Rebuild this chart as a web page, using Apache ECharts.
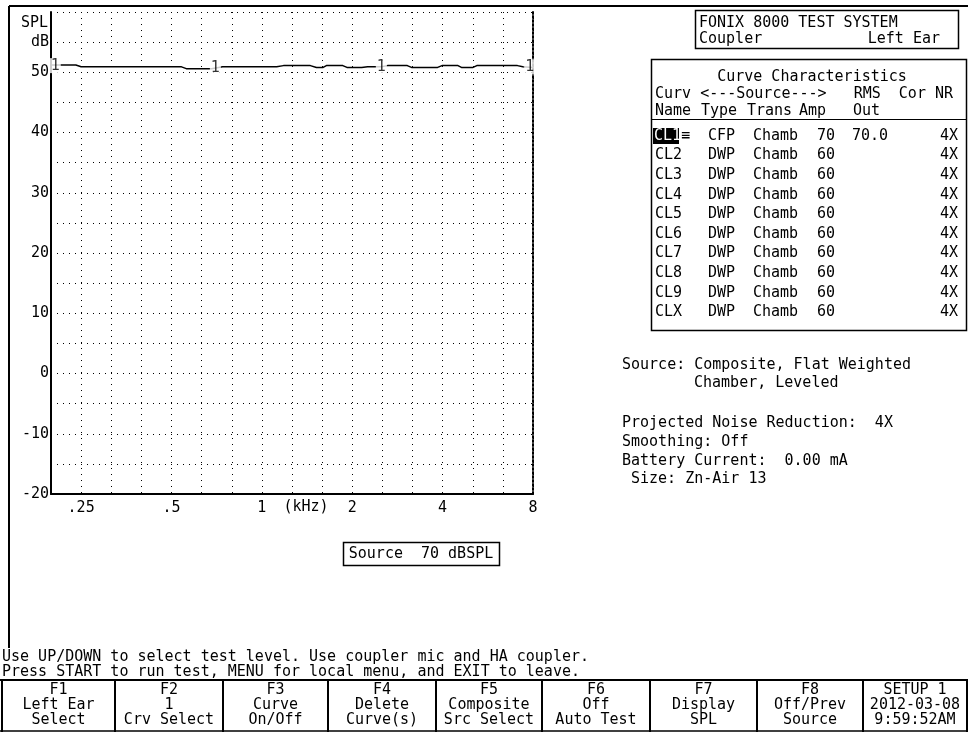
<!DOCTYPE html>
<html>
<head>
<meta charset="utf-8">
<script src="https://cdn.jsdelivr.net/npm/echarts@6/dist/echarts.min.js"></script>
<style>
  html, body { margin: 0; padding: 0; background: #fff; }
  #main { width: 968px; height: 732px; }
</style>
</head>
<body>
<div id="main"></div>
<script>
// curve 1 (kHz, dB SPL)
const freqKHz = [0.2, 0.24, 0.25, 0.3, 0.4, 0.5, 0.54, 0.56, 0.63, 0.68, 0.74, 0.9, 1.12, 1.18, 1.45, 1.52, 1.6, 1.64,
  1.86, 1.92, 2.15, 2.25, 2.5, 2.62, 3.05, 3.15, 3.85, 3.98, 4.5, 4.62, 5.05, 5.2, 7.1, 7.4, 8.0];
const splDb = [51.2, 51.2, 50.9, 50.9, 50.9, 50.9, 50.9, 50.6, 50.6, 50.6, 50.9, 50.9, 50.9, 51.1, 51.1, 50.8, 50.8, 51.1,
  51.1, 50.8, 50.8, 50.9, 50.9, 51.1, 51.1, 50.8, 50.8, 51.1, 51.1, 50.8, 50.8, 51.1, 51.1, 50.9, 50.8];

// where the "1" curve tags sit
const tagFreqKHz = [0.205, 0.70, 2.5, 7.8];
const tagDb = [51.1, 50.7, 50.9, 50.9];

const xTickLabels = { '-6': '.25', '-3': '.5', '0': '1', '3': '2', '6': '4', '9': '8' };

const curveNames = ['CL1', 'CL2', 'CL3', 'CL4', 'CL5', 'CL6', 'CL7', 'CL8', 'CL9', 'CLX'];
const curveTypes = ['CFP', 'DWP', 'DWP', 'DWP', 'DWP', 'DWP', 'DWP', 'DWP', 'DWP', 'DWP'];
const curveTrans = ['Chamb', 'Chamb', 'Chamb', 'Chamb', 'Chamb', 'Chamb', 'Chamb', 'Chamb', 'Chamb', 'Chamb'];
const curveAmp = ['70', '60', '60', '60', '60', '60', '60', '60', '60', '60'];
const curveRms = ['70.0', '', '', '', '', '', '', '', '', ''];
const curveNr = ['4X', '4X', '4X', '4X', '4X', '4X', '4X', '4X', '4X', '4X'];

const fKeys = [
  ['F1', 'Left Ear', 'Select'],
  ['F2', '1', 'Crv Select'],
  ['F3', 'Curve', 'On/Off'],
  ['F4', 'Delete', 'Curve(s)'],
  ['F5', 'Composite', 'Src Select'],
  ['F6', 'Off', 'Auto Test'],
  ['F7', 'Display', 'SPL'],
  ['F8', 'Off/Prev', 'Source'],
  ['SETUP 1', '2012-03-08', '9:59:52AM']
];

const FONT = '15px "DejaVu Sans Mono"';
const chart = echarts.init(document.getElementById('main'));

// x axis runs in third-octave steps: k = 3 * log2(kHz)
const thirdOct = (f) => 3 * Math.log2(f);

const txt = (text, x, y, align) => ({
  type: 'text', silent: true,
  style: { text, x, y, font: FONT, fill: '#000', textAlign: align || 'left', textVerticalAlign: 'middle' }
});
const line = (x1, y1, x2, y2, w) => ({
  type: 'line', silent: true,
  shape: { x1, y1, x2, y2 },
  style: { stroke: '#000', lineWidth: w || 1 }
});
const box = (x, y, width, height, w) => ({
  type: 'rect', silent: true,
  shape: { x, y, width, height },
  style: { fill: 'none', stroke: '#000', lineWidth: w || 1 }
});

const graphics = [];
graphics.push(line(9, 6, 968, 6, 2));
graphics.push(line(9, 6, 9, 648, 2));
graphics.push(txt('SPL', 48, 23, 'right'));
graphics.push(txt('(kHz)', 306, 507, 'center'));

// source level box under the plot
graphics.push(box(343.5, 542.5, 156, 23, 1.5));
graphics.push(txt('Source  70 dBSPL', 421, 554, 'center'));

// title box
graphics.push(box(695.5, 10.5, 263, 38, 1.5));
graphics.push(txt('FONIX 8000 TEST SYSTEM', 699, 23));
graphics.push(txt('Coupler', 699, 39));
graphics.push(txt('Left Ear', 940, 39, 'right'));

// curve characteristics table
graphics.push(box(651.5, 59.5, 315, 271, 1.5));
graphics.push(txt('Curve Characteristics', 812, 77, 'center'));
graphics.push(txt('Curv <---Source--->   RMS  Cor NR', 655, 94));
graphics.push(txt('Name', 655, 111));
graphics.push(txt('Type', 701, 111));
graphics.push(txt('Trans', 747, 111));
graphics.push(txt('Amp', 799, 111));
graphics.push(txt('Out', 853, 111));
graphics.push(line(651, 119.5, 966, 119.5, 1));
curveNames.forEach((name, i) => {
  const y = 136 + i * 19.6;
  if (i === 0) {
    graphics.push({ type: 'rect', silent: true, shape: { x: 653, y: y - 8, width: 26, height: 16 }, style: { fill: '#000' } });
    graphics.push({ type: 'text', silent: true, style: { text: name, x: 654, y, font: FONT, fill: '#fff', textVerticalAlign: 'middle' } });
    graphics.push(txt('\u2261', 681, y));
  } else {
    graphics.push(txt(name, 655, y));
  }
  graphics.push(txt(curveTypes[i], 708, y));
  graphics.push(txt(curveTrans[i], 753, y));
  graphics.push(txt(curveAmp[i], 817, y));
  graphics.push(txt(curveRms[i], 852, y));
  graphics.push(txt(curveNr[i], 958, y, 'right'));
});

// measurement notes
graphics.push(txt('Source: Composite, Flat Weighted', 622, 365));
graphics.push(txt('Chamber, Leveled', 694, 383));
graphics.push(txt('Projected Noise Reduction:  4X', 622, 423));
graphics.push(txt('Smoothing: Off', 622, 442));
graphics.push(txt('Battery Current:  0.00 mA', 622, 461));
graphics.push(txt('Size: Zn-Air 13', 631, 479));

// prompt lines
graphics.push(txt('Use UP/DOWN to select test level. Use coupler mic and HA coupler.', 2, 657));
graphics.push(txt('Press START to run test, MENU for local menu, and EXIT to leave.', 2, 672));

// function key row
const keyEdges = [2, 115, 223, 328, 436, 542, 650, 757, 863, 967];
graphics.push(line(0, 680, 968, 680, 2));
graphics.push(line(0, 731, 968, 731, 1.5));
keyEdges.forEach((x) => graphics.push(line(x, 680, x, 732, 2)));
fKeys.forEach((lines, i) => {
  const cx = (keyEdges[i] + keyEdges[i + 1]) / 2;
  lines.forEach((t, j) => graphics.push(txt(t, cx, 690 + j * 15, 'center')));
});

chart.setOption({
  animation: false,
  backgroundColor: '#fff',
  grid: { left: 51, top: 12, width: 482, height: 482, containLabel: false },
  xAxis: [
    {
      type: 'value', min: -7, max: 9, interval: 1,
      axisLine: { show: true, onZero: false, lineStyle: { color: '#000', width: 2 } },
      axisTick: { show: false },
      axisLabel: {
        color: '#000', fontFamily: 'DejaVu Sans Mono', fontSize: 15, margin: 7,
        formatter: (v) => xTickLabels[String(Math.round(v))] || ''
      },
      splitLine: { show: true, lineStyle: { color: '#000', width: 1, type: [1, 5] } }
    }
  ],
  yAxis: [
    {
      type: 'value', min: -20, max: 60, interval: 5,
      axisLine: { show: true, onZero: false, lineStyle: { color: '#000', width: 2 } },
      axisTick: { show: false },
      axisLabel: {
        color: '#000', fontFamily: 'DejaVu Sans Mono', fontSize: 15, margin: 2,
        formatter: (v) => (v === 55 ? 'dB' : (v % 10 === 0 && v < 60 ? String(v) : ''))
      },
      splitLine: { show: true, lineStyle: { color: '#000', width: 1, type: [1, 5] } }
    },
    {
      type: 'value', min: -20, max: 60, interval: 5, position: 'right',
      axisLine: { show: true, onZero: false, lineStyle: { color: '#000', width: 2, type: [2, 2] } },
      axisTick: { show: false }, axisLabel: { show: false }, splitLine: { show: false }
    }
  ],
  series: [
    {
      type: 'line',
      data: freqKHz.map((f, i) => [thirdOct(f), splDb[i]]),
      showSymbol: false,
      lineStyle: { color: '#000', width: 1.5 },
      z: 3
    },
    {
      type: 'scatter',
      data: tagFreqKHz.map((f, i) => [thirdOct(f), tagDb[i]]),
      symbolSize: 1,
      itemStyle: { color: 'rgba(0,0,0,0)' },
      label: {
        show: true, position: 'inside', formatter: '1',
        color: '#000', fontFamily: 'DejaVu Sans Mono', fontSize: 15,
        backgroundColor: '#fff', padding: [0, 1]
      },
      z: 4
    }
  ],
  graphic: graphics
});

window.addEventListener('resize', () => chart.resize());
</script>
</body>
</html>
